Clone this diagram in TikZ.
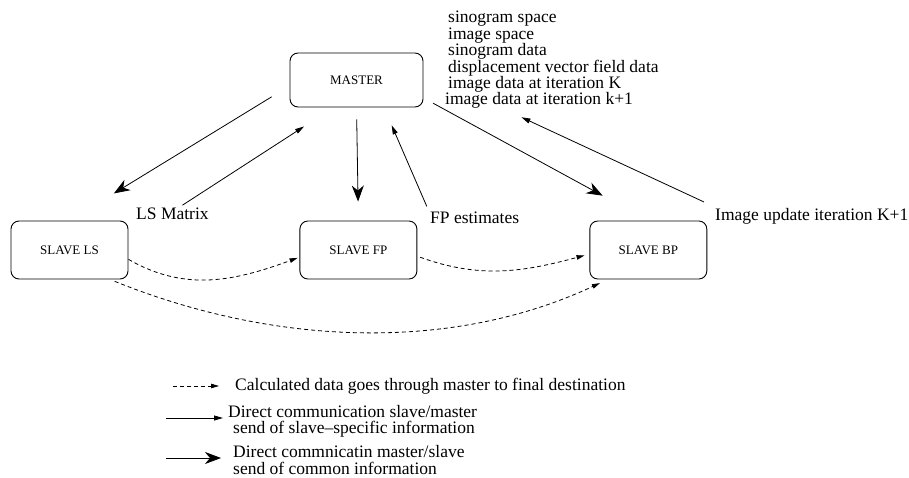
\documentclass[tikz,border=0pt]{standalone}
\usepackage{fontspec}
\setmainfont{Liberation Serif}
\usetikzlibrary{positioning, arrows.meta}

\begin{document}
\begin{tikzpicture}[x=1pt, y=-1pt,
          bx/.style={draw, rounded corners=8pt, line width=0.9pt, font=\fontsize{13}{15}\selectfont, minimum width=117pt, minimum height=58pt, inner sep=0pt},
          lbl/.style={font=\fontsize{17.5}{16.4}\selectfont, inner sep=2pt, align=left},
          slv/.style={-{Triangle[length=9pt,width=5pt]}, line width=0.8pt},
          com/.style={-{Stealth[length=16pt,width=12pt,inset=5pt]}, line width=0.8pt},
          cal/.style={-{Triangle[length=8pt,width=4.5pt]}, dash pattern=on 4pt off 3pt, line width=0.8pt}]
        \useasboundingbox (0,0) rectangle (909,478);
        \node[bx] (ls) at (69.5,250) {SLAVE LS}; \node[bx, right=171pt of ls] (fp) {SLAVE FP}; \node[bx, right=172pt of fp] (bp) {SLAVE BP};
        \node[bx, minimum width=133pt, minimum height=54pt] (master) at (356.5,80) {MASTER};
        \node[lbl, anchor=base west] (info) at (446,105) {sinogram space\\image space\\sinogram data\\displacement vector field data\\image data at iteration K\\\kern-3pt image data at iteration k+1};
        \node[lbl, anchor=base west] (lsmat) at (134,219) {LS Matrix};
        \node[lbl, anchor=base west] (fpest) at (428,223) {FP estimates};
        \node[lbl, anchor=base west] (imgupd) at (713,220.5) {Image update iteration K+1};
        % master to slaves
        \draw[com, shorten <=21pt, shorten >=52pt] (master.185) -- (ls.north);
        \draw[com, shorten <=12pt, shorten >=19pt] (master.south) -- (fp.north);
        \draw[com, shorten <=11pt, shorten >=52pt] (master.-15) -- (bp.north);
        % slaves to master
        \draw[slv, shorten >=35pt] ([xshift=10pt]lsmat.north) -- (master.230);
        \draw[slv, shorten <=3pt, shorten >=19.5pt] (fpest.north west) -- (master.-45);
        \draw[slv, shorten <=10pt, shorten >=108pt] (imgupd.north west) -- (master.7);
        % data through master
        \draw[cal, shorten >=2pt] (ls.-9) to[out=-30, in=200] (fp.187);
        \draw[cal, shorten <=3pt, shorten >=5pt] (fp.-6) to[out=-20, in=195] (bp.184);
        \draw[cal, shorten <=5pt, shorten >=8.6pt] (ls.-36) to[out=-22, in=205, looseness=0.9] (bp.-144);
        % legend
        \node[lbl, anchor=base west] (t1) at (233,390) {Calculated data goes through master to final destination};
        \node[lbl, anchor=base west] (t2) at (226,433.5) {Direct communication slave/master\\\hspace*{5pt}send of slave--specific information};
        \node[lbl, anchor=base west] (t3) at (231,474) {Direct commnicatin master/slave\\send of common information};
        \coordinate (k1) at (173,386); \coordinate (k2) at (166,418); \coordinate (k3) at (166,458);
        \draw[cal, shorten >=14pt] (k1) -- (k1 -| t1.west);
        \draw[slv, shorten >=3pt] (k2) -- (k2 -| t2.west);
        \draw[com, shorten >=10pt] (k3) -- (k3 -| t3.west);
      \end{tikzpicture}
\end{document}
